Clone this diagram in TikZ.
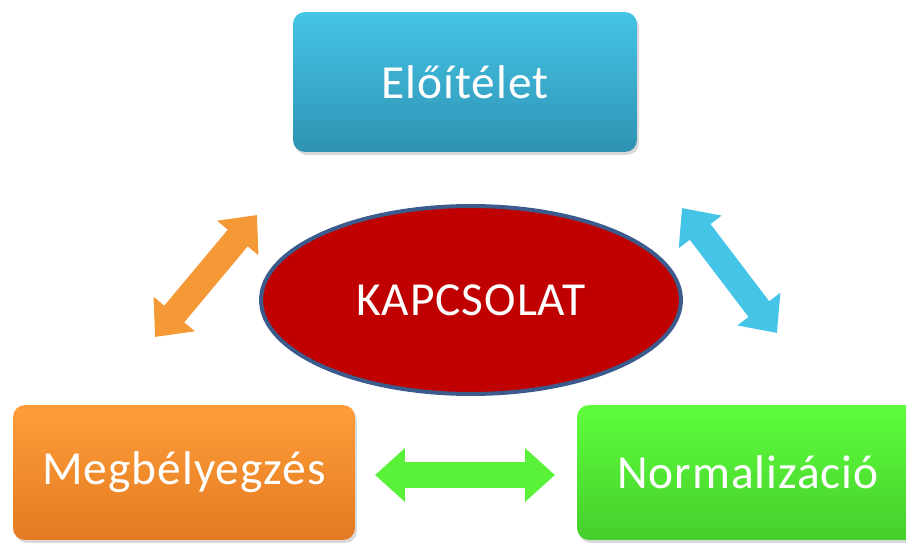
\documentclass[tikz,border=0pt]{standalone}
\usepackage{fontspec}
\newfontfamily\boxfont{Carlito}[LetterSpace=2]
\usepackage{tikz}
\usetikzlibrary{arrows.meta,shapes.geometric,shadows}

\definecolor{prejtop}{HTML}{44C4E6}
\definecolor{prejbot}{HTML}{2F93B3}
\definecolor{stigtop}{HTML}{FF9E38}
\definecolor{stigbot}{HTML}{E37A22}
\definecolor{normtop}{HTML}{5EFF3C}
\definecolor{normbot}{HTML}{46CE2C}
\definecolor{corered}{HTML}{C00000}
\definecolor{coreline}{HTML}{3B5B8C}

\begin{document}
\begin{tikzpicture}[
  x=0.02cm, y=0.02cm,
  box/.style={rounded corners=0.24cm, minimum width=6.84cm, minimum height=2.7cm,
    align=center, text=white, font=\boxfont\fontsize{27}{32}\selectfont,
    drop shadow={opacity=0.3, shadow xshift=0.04cm, shadow yshift=-0.06cm}},
  dbl/.style={line width=0.52cm,
    {Triangle[width=1.04cm,length=0.6cm]}-{Triangle[width=1.04cm,length=0.6cm]}}
]
  \useasboundingbox (0,0) rectangle (906,542);
  \clip (0,0) rectangle (906,542);

  \node[box, minimum width=6.88cm, minimum height=2.8cm, top color=prejtop, bottom color=prejbot] (prej) at (465,460) {Előítélet};
  \node[box, top color=stigtop, bottom color=stigbot] (stig) at (184,69.5) {Megbélyegzés};
  \node[box, top color=normtop, bottom color=normbot] (norm) at (748,69.5) {Normalizáció};

  \node[ellipse, draw=coreline, line width=0.08cm, fill=corered, minimum width=8.4cm, minimum height=3.76cm,
    text=white, font=\boxfont\fontsize{27}{32}\selectfont] (core) at (471,242) {KAPCSOLAT};

  % double arrows between the boxes
  \coordinate (os) at (155,205);
  \coordinate (op) at (257,327);
  \coordinate (bp) at (682,334);
  \coordinate (bn) at (777,209);
  \coordinate (gs) at (375,67);
  \coordinate (gn) at (555,67);
  \draw[dbl, draw=stigtop!96!black, fill=stigtop!96!black] (os) -- (op);
  \draw[dbl, draw=prejtop, fill=prejtop] (bp) -- (bn);
  \draw[dbl, draw=normtop!95!black, fill=normtop!95!black] (gs) -- (gn);
\end{tikzpicture}
\end{document}
